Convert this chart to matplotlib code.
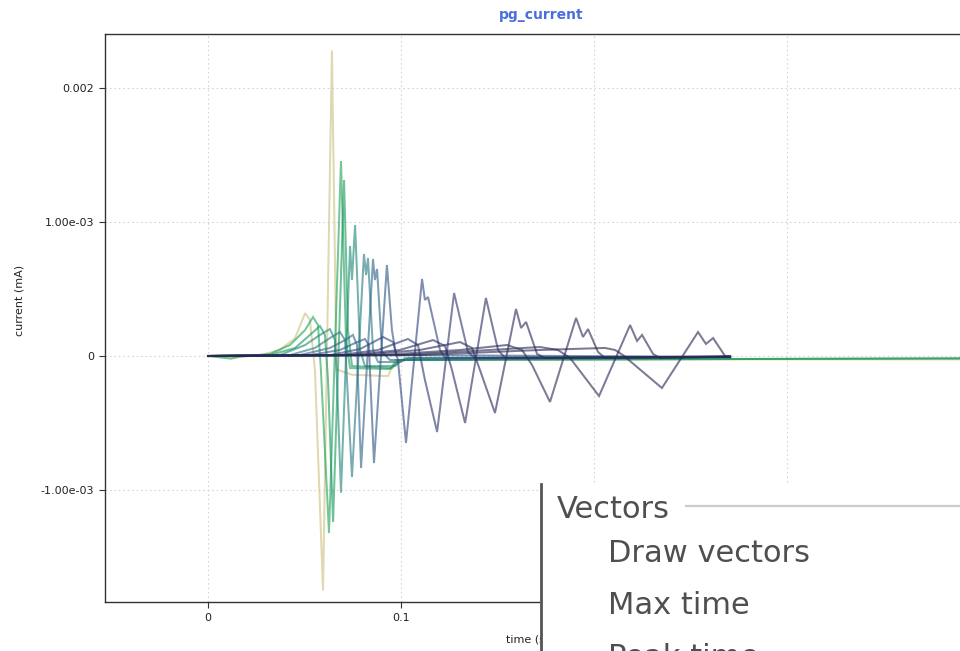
import numpy as np
import matplotlib
matplotlib.use("Agg")
import matplotlib.pyplot as plt

# ---------------- data (time in s, current in 1e-3 mA) ----------------
T1 = [0, 0.012, 0.027, 0.037, 0.045, 0.0503, 0.0528, 0.0554, 0.0596, 0.0642, 0.0666, 0.0746, 0.0933, 0.0969, 0.11, 0.45]
Y1 = [0, -0.01, 0.005, 0.045, 0.13, 0.32, 0.27, -0.10, -1.75, 2.28, -0.10, -0.14, -0.15, -0.03, -0.025, -0.025]

T2 = [0, 0.0119, 0.0166, 0.0321, 0.0425, 0.0503, 0.0544, 0.0570, 0.0585, 0.0627, 0.0689, 0.0715, 0.0736, 0.0943, 0.0984, 0.45]
Y2 = [0, -0.02, -0.005, 0.015, 0.082, 0.194, 0.291, 0.231, -0.104, -1.321, 1.455, 0.119, -0.090, -0.097, -0.03, -0.015]

T3 = [0, 0.0321, 0.0451, 0.0528, 0.0580, 0.0606, 0.0622, 0.0648, 0.0705, 0.0725, 0.0746, 0.0953, 0.0995, 0.45]
Y3 = [0, 0.007, 0.060, 0.157, 0.224, 0.157, -0.179, -1.239, 1.313, 0.194, -0.075, -0.090, -0.03, -0.015]

T4 = [0, 0.0373, 0.0503, 0.0580, 0.0632, 0.0658, 0.0668, 0.0689, 0.0736, 0.0746, 0.0762, 0.0788, 0.0813, 0.0969, 0.1021, 0.2705]
Y4 = [0, 0.007, 0.082, 0.157, 0.201, 0.119, -0.179, -1.02, 0.821, 0.567, 0.978, 0.045, -0.075, -0.075, -0.015, -0.012]

T5 = [0, 0.0425, 0.0554, 0.0632, 0.0684, 0.0710, 0.0720, 0.0746, 0.0808, 0.0819, 0.0829, 0.0855, 0.0881, 0.0995, 0.1047, 0.2705]
Y5 = [0, 0.007, 0.06, 0.134, 0.179, 0.119, -0.179, -0.903, 0.761, 0.604, 0.731, 0.045, -0.045, -0.045, -0.015, -0.010]

T6 = [0, 0.0477, 0.0632, 0.0710, 0.0751, 0.0772, 0.0777, 0.0793, 0.0855, 0.0865, 0.0876, 0.0902, 0.0943, 0.2705]
Y6 = [0, 0.007, 0.06, 0.119, 0.157, 0.082, -0.179, -0.836, 0.724, 0.567, 0.649, 0.03, -0.03, -0.008]

T7 = [0, 0.0528, 0.0684, 0.0762, 0.0813, 0.0834, 0.0839, 0.0860, 0.0927, 0.0953, 0.0974, 0.2705]
Y7 = [0, 0.007, 0.045, 0.097, 0.127, 0.082, -0.104, -0.799, 0.679, 0.194, 0.007, -0.006]

T8 = [0, 0.0632, 0.0788, 0.0907, 0.0959, 0.0984, 0.1026, 0.1109, 0.1124, 0.1140, 0.1202, 0.1228, 0.2705]
Y8 = [0, 0.007, 0.052, 0.142, 0.104, -0.03, -0.649, 0.575, 0.418, 0.440, 0.045, -0.015, -0.005]

T9 = [0, 0.0684, 0.0881, 0.1036, 0.1088, 0.1124, 0.1187, 0.1275, 0.1347, 0.1383, 0.2705]
Y9 = [0, 0.007, 0.045, 0.127, 0.082, -0.179, -0.567, 0.470, 0.030, -0.015, -0.005]

T10 = [0, 0.0736, 0.0995, 0.1166, 0.1228, 0.1264, 0.1332, 0.1440, 0.1503, 0.1539, 0.2705]
Y10 = [0, 0.007, 0.045, 0.119, 0.075, -0.104, -0.50, 0.433, 0.045, -0.015, -0.005]

T11 = [0, 0.0788, 0.1098, 0.1306, 0.1368, 0.1409, 0.1487, 0.1596, 0.1622, 0.1648, 0.1705, 0.1746, 0.2705]
Y11 = [0, 0.007, 0.045, 0.104, 0.06, -0.104, -0.425, 0.351, 0.209, 0.254, 0.015, -0.015, -0.005]

T12 = [0, 0.0891, 0.1306, 0.1549, 0.1627, 0.1679, 0.1772, 0.1907, 0.1943, 0.1969, 0.2021, 0.2057, 0.2705]
Y12 = [0, 0.007, 0.045, 0.082, 0.045, -0.067, -0.343, 0.284, 0.142, 0.201, 0.030, -0.015, -0.005]

T13 = [0, 0.0995, 0.1461, 0.1720, 0.1813, 0.1876, 0.2026, 0.2187, 0.2223, 0.2249, 0.2306, 0.2342, 0.2705]
Y13 = [0, 0.007, 0.045, 0.067, 0.045, -0.015, -0.299, 0.231, 0.112, 0.157, 0.015, -0.015, -0.005]

T14 = [0, 0.1098, 0.1720, 0.2057, 0.2109, 0.2150, 0.2352, 0.2539, 0.2580, 0.2617, 0.2679, 0.2705]
Y14 = [0, 0.007, 0.045, 0.060, 0.045, 0.007, -0.239, 0.179, 0.090, 0.134, 0.0, -0.005]

Y_UNIT = 1e-3  # values above are in units of 1e-3 mA

SERIES = [(T1, Y1), (T2, Y2), (T3, Y3), (T4, Y4), (T5, Y5), (T6, Y6), (T7, Y7),
          (T8, Y8), (T9, Y9), (T10, Y10), (T11, Y11), (T12, Y12), (T13, Y13), (T14, Y14)]
COLORS = ["#cdc080", "#20a356", "#17985e", "#1d8975", "#287984", "#2d6589", "#305684",
          "#30477d", "#30376d", "#2d2f62", "#2b2b5a", "#2b2b56", "#2a2a54", "#282852"]

X_TICKS = [0, 0.1, 0.2, 0.3, 0.4]
X_TICK_LABELS = ["0", "0.1", "0.2", "0.3", "0.4"]
Y_TICKS = [-1e-3, 0, 1e-3, 2e-3]
Y_TICK_LABELS = ["-1.00e-03", "0", "1.00e-03", "0.002"]

# ---------------- figure ----------------
W, H = 960, 651
fig = plt.figure(figsize=(W / 100, H / 100), dpi=100)
fig.patch.set_facecolor("white")

xmin, xmax = -0.05337, 0.45
ymin, ymax = -0.0018358, 0.002403
px_per_x = 1930.0
ax_w = (xmax - xmin) * px_per_x
ax = fig.add_axes([105 / W, (H - 602) / H, ax_w / W, 568 / H])
ax.set_xlim(xmin, xmax)
ax.set_ylim(ymin, ymax)
ax.set_facecolor("white")

for (t, y), c in zip(SERIES, COLORS):
    ax.plot(t, np.array(y) * Y_UNIT, color=c, alpha=0.62, lw=1.45, solid_joinstyle="miter")

ax.set_xticks(X_TICKS)
ax.set_xticklabels(X_TICK_LABELS)
ax.set_yticks(Y_TICKS)
ax.set_yticklabels(Y_TICK_LABELS)
ax.tick_params(axis="both", direction="out", length=4, width=0.8, color="#333333",
               labelsize=8, labelcolor="#222222", pad=4)
ax.grid(True, linestyle=(0, (1.5, 2.5)), color="#d4d4d4", lw=0.8)
ax.set_axisbelow(True)
for s in ax.spines.values():
    s.set_color("#333333")
    s.set_linewidth(1.0)

fig.text(541 / W, 1 - 15 / H, "pg_current", ha="center", va="center",
         color="#4a6fdc", fontsize=10, fontweight="bold")
fig.text(20 / W, 1 - 300 / H, "current (mA)", rotation=90, ha="center", va="center",
         fontsize=8, color="#222222")
fig.text(506 / W, 1 - 640 / H, "time (s)", ha="left", va="center",
         fontsize=8, color="#222222")

# ---------------- overlay settings panel ----------------
ov = fig.add_axes([541 / W, 0, (W - 541) / W, (H - 484) / H], zorder=5)
ov.set_xlim(541, W)
ov.set_ylim(H, 484)
ov.set_facecolor("white")
ov.set_xticks([])
ov.set_yticks([])
for k, s in ov.spines.items():
    s.set_visible(k == "left")
ov.spines["left"].set_color("#555555")
ov.spines["left"].set_linewidth(2.0)
ov.plot([686, W], [506, 506], color="#cccccc", lw=1.6)
txt_col = "#4f4f4f"
ov.text(557, 518, "Vectors", fontsize=22, color=txt_col, va="baseline", ha="left")
ov.text(608, 562, "Draw vectors", fontsize=22, color=txt_col, va="baseline", ha="left")
ov.text(608, 614, "Max time", fontsize=22, color=txt_col, va="baseline", ha="left")
ov.text(608, 666, "Peak time", fontsize=22, color=txt_col, va="baseline", ha="left", clip_on=True)

fig.savefig("out.png", dpi=100)
